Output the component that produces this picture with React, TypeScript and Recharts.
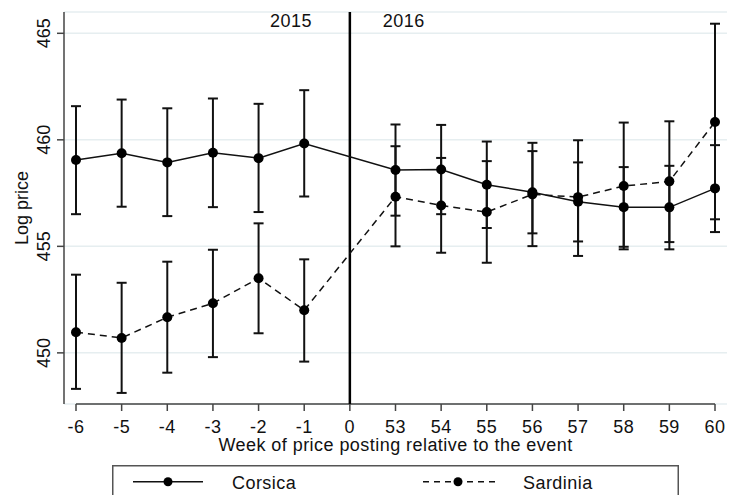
import {
  LineChart,
  Line,
  XAxis,
  YAxis,
  CartesianGrid,
  ReferenceLine,
  ErrorBar,
  Legend,
} from "recharts";

const weeks = ["-6", "-5", "-4", "-3", "-2", "-1", "0", "53", "54", "55", "56", "57", "58", "59", "60"];

const corsica = [459.05, 459.37, 458.94, 459.39, 459.14, 459.83, null, 458.58, 458.61, 457.89, 457.54, 457.09, 456.84, 456.83, 457.72];
const corsicaLow = [456.51, 456.86, 456.42, 456.84, 456.61, 457.34, null, 456.44, 456.51, 455.86, 455.61, 455.23, 454.98, 454.86, 455.67];
const corsicaHigh = [461.58, 461.89, 461.48, 461.94, 461.69, 462.33, null, 460.72, 460.7, 459.92, 459.47, 458.94, 458.72, 458.78, 459.75];

const sardinia = [450.97, 450.7, 451.67, 452.33, 453.5, 452.0, null, 457.33, 456.92, 456.61, 457.44, 457.31, 457.83, 458.05, 460.84];
const sardiniaLow = [448.31, 448.12, 449.07, 449.8, 450.92, 449.59, null, 455.0, 454.7, 454.23, 455.01, 454.55, 454.86, 455.2, 456.27];
const sardiniaHigh = [453.67, 453.29, 454.28, 454.84, 456.08, 454.39, null, 459.7, 459.15, 459.0, 459.86, 459.98, 460.81, 460.87, 465.45];

const yTicks = [450, 455, 460, 465];

const errOf = (v: number | null, lo: number | null, hi: number | null) =>
  v == null || lo == null || hi == null ? undefined : [v - lo, hi - v];

const data = weeks.map((week, i) => ({
  week,
  corsica: corsica[i],
  corsicaErr: errOf(corsica[i], corsicaLow[i], corsicaHigh[i]),
  sardinia: sardinia[i],
  sardiniaErr: errOf(sardinia[i], sardiniaLow[i], sardiniaHigh[i]),
}));

const INK = "#111";
const AXIS = "#444";
const FONT = "'Liberation Sans', Arial, sans-serif";
const SPACING = 0.45;

function YTick({ y, payload }: any) {
  return (
    <text x={50} y={y} transform={`rotate(-90, 50, ${y})`} textAnchor="middle" fontSize={18} fill={INK}>
      {payload.value}
    </text>
  );
}

function YearLabels({ viewBox }: any) {
  const x = viewBox.x;
  const y = viewBox.y + 15;
  return (
    <g fontSize={18} fill={INK} letterSpacing={SPACING}>
      <text x={x - 38} y={y} textAnchor="end">2015</text>
      <text x={x + 33} y={y} textAnchor="start">2016</text>
    </g>
  );
}

function LegendBox() {
  return (
    <svg width={567} height={30} style={{ display: "block", overflow: "hidden" }}>
      <rect x={0.75} y={0.75} width={565.5} height={60} fill="#fff" stroke="#555" strokeWidth={1.5} />
      <line x1={21} y1={16.7} x2={91} y2={16.7} stroke={INK} strokeWidth={1.5} />
      <circle cx={56} cy={16.7} r={4.5} fill="#000" />
      <text x={120} y={24} fontSize={18} fill={INK} fontFamily={FONT} letterSpacing={SPACING}>Corsica</text>
      <line x1={311} y1={16.7} x2={384} y2={16.7} stroke={INK} strokeWidth={1.5} strokeDasharray="6 5" />
      <circle cx={346} cy={16.7} r={4.5} fill="#000" />
      <text x={411} y={24} fontSize={18} fill={INK} fontFamily={FONT} letterSpacing={SPACING}>Sardinia</text>
    </svg>
  );
}

export default function App() {
  return (
    <div style={{ position: "absolute", left: 0, top: 0, width: 729, height: 495, background: "#fff", fontFamily: FONT, overflow: "hidden" }}>
      <LineChart width={729} height={495} data={data} margin={{ top: 12, right: 2, left: 0, bottom: 40 }}>
        <CartesianGrid vertical={false} stroke="#e6eef0" strokeWidth={1.5} />
        <XAxis
          dataKey="week"
          padding={{ left: 12, right: 12 }}
          height={51}
          interval={0}
          axisLine={false}
          tickLine={{ stroke: AXIS, strokeWidth: 1.5 }}
          tickSize={7}
          tickMargin={9}
          tick={{ fontSize: 18, fill: INK, letterSpacing: SPACING }}
          label={{
            value: "Week of price posting relative to the event",
            position: "insideBottom",
            offset: 4,
            fontSize: 18,
            fill: INK,
            letterSpacing: SPACING,
          }}
        />
        <YAxis
          domain={[447.6, 466]}
          ticks={yTicks}
          width={64}
          axisLine={{ stroke: AXIS, strokeWidth: 1.5 }}
          tickLine={{ stroke: AXIS, strokeWidth: 1.5 }}
          tickSize={7}
          tick={<YTick />}
          label={({ viewBox }: any) => (
            <text
              x={28}
              y={viewBox.y + viewBox.height / 2}
              transform={`rotate(-90, 28, ${viewBox.y + viewBox.height / 2})`}
              textAnchor="middle"
              fontSize={18}
              fill={INK}
            >
              Log price
            </text>
          )}
        />
        <ReferenceLine
          segment={[{ x: "-6", y: 447.6 }, { x: "60", y: 447.6 }]}
          stroke={AXIS}
          strokeWidth={1.5}
        />
        <ReferenceLine x="0" stroke="#000" strokeWidth={2.5} label={<YearLabels />} />
        <Line
          dataKey="corsica"
          stroke={INK}
          strokeWidth={1.5}
          connectNulls
          dot={{ r: 5, fill: "#000", stroke: "#000", strokeWidth: 0 }}
          activeDot={false}
          isAnimationActive={false}
        >
          <ErrorBar dataKey="corsicaErr" width={5} stroke={INK} strokeWidth={2} direction="y" isAnimationActive={false} />
        </Line>
        <Line
          dataKey="sardinia"
          stroke={INK}
          strokeWidth={1.5}
          strokeDasharray="7 5"
          connectNulls
          dot={{ r: 5, fill: "#000", stroke: "#000", strokeWidth: 0, strokeDasharray: "" }}
          activeDot={false}
          isAnimationActive={false}
        >
          <ErrorBar dataKey="sardiniaErr" width={5} stroke={INK} strokeWidth={2} direction="y" isAnimationActive={false} />
        </Line>
        <Legend
          layout="vertical"
          align="center"
          verticalAlign="middle"
          content={<LegendBox />}
          wrapperStyle={{ left: 112, top: 465, width: 567, height: 30 }}
        />
      </LineChart>
    </div>
  );
}
